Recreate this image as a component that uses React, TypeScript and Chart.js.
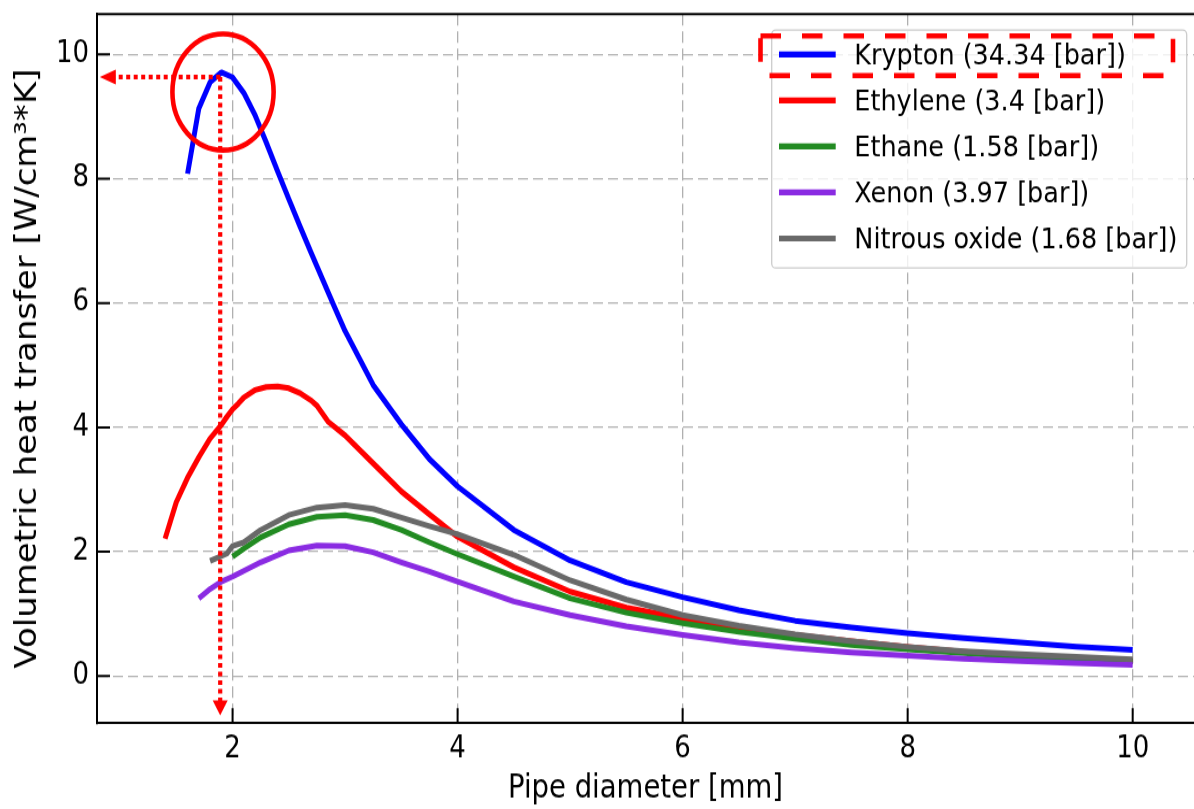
import React, { useEffect, useRef } from 'react';
import { Chart, registerables } from 'chart.js';

Chart.register(...registerables);

// ---- data -----------------------------------------------------------------
const kryptonX = [1.6, 1.7, 1.8, 1.9, 2.0, 2.1, 2.2, 2.3, 2.4, 2.5, 2.6, 2.7, 2.8, 2.9, 3.0, 3.25, 3.5, 3.75, 4.0, 4.5, 5.0, 5.5, 6.0, 6.5, 7.0, 7.5, 8.0, 8.5, 9.0, 9.5, 10.0];
const kryptonY = [8.08, 9.13, 9.55, 9.71, 9.63, 9.38, 9.02, 8.58, 8.12, 7.67, 7.23, 6.8, 6.38, 5.96, 5.55, 4.68, 4.05, 3.49, 3.05, 2.35, 1.86, 1.51, 1.27, 1.06, 0.89, 0.78, 0.69, 0.61, 0.54, 0.47, 0.42];

const ethyleneX = [1.4, 1.5, 1.6, 1.7, 1.8, 1.9, 1.95, 2.0, 2.05, 2.1, 2.2, 2.3, 2.4, 2.5, 2.6, 2.7, 2.75, 2.85, 3.0, 3.25, 3.5, 3.75, 4.0, 4.5, 5.0, 5.5, 6.0, 6.5, 7.0, 7.5, 8.0, 8.5, 9.0, 9.5, 10.0];
const ethyleneY = [2.21, 2.8, 3.19, 3.52, 3.82, 4.04, 4.17, 4.29, 4.38, 4.48, 4.6, 4.65, 4.66, 4.63, 4.55, 4.43, 4.35, 4.09, 3.87, 3.42, 2.97, 2.6, 2.24, 1.75, 1.36, 1.1, 0.93, 0.78, 0.66, 0.56, 0.47, 0.39, 0.33, 0.28, 0.24];

const ethaneX = [2.0, 2.1, 2.25, 2.5, 2.75, 3.0, 3.25, 3.5, 3.75, 4.0, 4.5, 5.0, 5.5, 6.0, 6.5, 7.0, 7.5, 8.0, 8.5, 9.0, 9.5, 10.0];
const ethaneY = [1.92, 2.05, 2.23, 2.44, 2.56, 2.59, 2.51, 2.35, 2.15, 1.96, 1.6, 1.25, 1.02, 0.85, 0.71, 0.6, 0.5, 0.43, 0.37, 0.31, 0.27, 0.235];

const xenonX = [1.7, 1.8, 1.9, 2.0, 2.25, 2.5, 2.75, 3.0, 3.25, 3.5, 3.75, 4.0, 4.5, 5.0, 5.5, 6.0, 6.5, 7.0, 7.5, 8.0, 8.5, 9.0, 9.5, 10.0];
const xenonY = [1.25, 1.4, 1.52, 1.6, 1.83, 2.02, 2.1, 2.09, 1.99, 1.83, 1.68, 1.52, 1.2, 0.98, 0.8, 0.66, 0.54, 0.45, 0.38, 0.33, 0.28, 0.24, 0.21, 0.18];

const nitrousX = [1.8, 1.95, 2.0, 2.1, 2.25, 2.5, 2.75, 3.0, 3.25, 3.5, 3.75, 4.0, 4.5, 5.0, 5.5, 6.0, 6.5, 7.0, 7.5, 8.0, 8.5, 9.0, 9.5, 10.0];
const nitrousY = [1.85, 1.97, 2.09, 2.15, 2.35, 2.59, 2.71, 2.75, 2.69, 2.55, 2.41, 2.28, 1.95, 1.54, 1.23, 0.98, 0.81, 0.67, 0.56, 0.47, 0.4, 0.35, 0.31, 0.27];

const seriesLabels = [
  'Krypton (34.34 [bar])',
  'Ethylene (3.4 [bar])',
  'Ethane (1.58 [bar])',
  'Xenon (3.97 [bar])',
  'Nitrous oxide (1.68 [bar])',
];
const seriesColors = ['#0000ff', '#ff0000', '#228b22', '#8a2be2', '#696969'];
const seriesXs = [kryptonX, ethyleneX, ethaneX, xenonX, nitrousX];
const seriesYs = [kryptonY, ethyleneY, ethaneY, xenonY, nitrousY];

const xTickValues = [2, 4, 6, 8, 10];
const xTickLabels = ['2', '4', '6', '8', '10'];
const yTickValues = [0, 2, 4, 6, 8, 10];
const yTickLabels = ['0', '2', '4', '6', '8', '10'];

const xTitle = 'Pipe diameter [mm]';
const yTitle = 'Volumetric heat transfer [W/cm³*K]';

// annotation anchors (data coordinates)
const peakX = 1.89;
const peakY = 9.635;
const arrowTipX = 0.82;
const arrowTipY = -0.63;
const circleX = 1.915;
const circleY = 9.394;

// ---- layout ---------------------------------------------------------------
const CANVAS_W = 1194;
const CANVAS_H = 704;
const CSS_H = 809;
const FONT = "'DejaVu Sans', sans-serif";

function roundRectPath(ctx: CanvasRenderingContext2D, x: number, y: number, w: number, h: number, r: number) {
  ctx.beginPath();
  ctx.moveTo(x + r, y);
  ctx.lineTo(x + w - r, y);
  ctx.arcTo(x + w, y, x + w, y + r, r);
  ctx.lineTo(x + w, y + h - r);
  ctx.arcTo(x + w, y + h, x + w - r, y + h, r);
  ctx.lineTo(x + r, y + h);
  ctx.arcTo(x, y + h, x, y + h - r, r);
  ctx.lineTo(x, y + r);
  ctx.arcTo(x, y, x + r, y, r);
  ctx.closePath();
}

const decorPlugin = {
  id: 'decor',
  afterDatasetsDraw(chart: any) {
    const { ctx, chartArea: a, scales } = chart;
    const xs = scales.x;
    const ys = scales.y;
    ctx.save();

    // top spine + inward ticks
    ctx.strokeStyle = '#000';
    ctx.lineWidth = 2;
    ctx.setLineDash([]);
    ctx.beginPath();
    ctx.moveTo(a.left - 1, a.top);
    ctx.lineTo(a.right, a.top);
    for (const v of xTickValues) {
      const p = xs.getPixelForValue(v);
      ctx.moveTo(p, a.bottom);
      ctx.lineTo(p, a.bottom - 13);
    }
    for (const v of yTickValues) {
      const p = ys.getPixelForValue(v);
      ctx.moveTo(a.left, p);
      ctx.lineTo(a.left + 13, p);
    }
    ctx.stroke();

    // legend
    const boxRight = a.right - 7.3;
    const boxLeft = boxRight - 415;
    const boxTop = a.top + 13.9;
    const boxH = 207.1;
    roundRectPath(ctx, boxLeft, boxTop, boxRight - boxLeft, boxH, 4);
    ctx.fillStyle = 'rgba(255,255,255,0.8)';
    ctx.fill();
    ctx.strokeStyle = '#cccccc';
    ctx.lineWidth = 1.3;
    ctx.stroke();

    const rowY = (i: number) => boxTop + 21.2 + i * 40.05;
    ctx.font = `25.5px ${FONT}`;
    ctx.textBaseline = 'middle';
    ctx.textAlign = 'left';
    chart.data.datasets.forEach((ds: any, i: number) => {
      const y = rowY(i);
      ctx.strokeStyle = ds.borderColor;
      ctx.lineWidth = 5.2;
      ctx.lineCap = 'butt';
      ctx.beginPath();
      ctx.moveTo(boxLeft + 7.3, y);
      ctx.lineTo(boxLeft + 64, y);
      ctx.stroke();
      ctx.fillStyle = '#000';
      ctx.fillText(ds.label, boxLeft + 82.6, y + 1.8);
    });

    // dashed highlight around first legend entry
    ctx.strokeStyle = '#ff0000';
    ctx.lineWidth = 4.6;
    ctx.setLineDash([20.5, 21]);
    const hl = boxLeft - 11.2;
    const hr = boxLeft + 401.3;
    const ht = rowY(0) - 16.1;
    const hb = rowY(0) + 18.4;
    ctx.beginPath();
    ctx.rect(hl, ht, hr - hl, hb - ht);
    ctx.stroke();

    // dotted arrows from the peak
    const px = xs.getPixelForValue(peakX);
    const py = ys.getPixelForValue(peakY);
    const tipX = xs.getPixelForValue(arrowTipX);
    const tipY = ys.getPixelForValue(arrowTipY);
    ctx.lineWidth = 4.2;
    ctx.setLineDash([4, 3.5]);
    ctx.beginPath();
    ctx.moveTo(px, py);
    ctx.lineTo(tipX + 15, py);
    ctx.stroke();
    ctx.beginPath();
    ctx.moveTo(px, py);
    ctx.lineTo(px, tipY - 12);
    ctx.stroke();
    ctx.setLineDash([]);
    ctx.fillStyle = '#ff0000';
    ctx.beginPath();
    ctx.moveTo(tipX, py);
    ctx.lineTo(tipX + 16, py - 6.4);
    ctx.lineTo(tipX + 16, py + 6.4);
    ctx.closePath();
    ctx.fill();
    ctx.beginPath();
    ctx.moveTo(px, tipY);
    ctx.lineTo(px - 7.5, tipY - 13);
    ctx.lineTo(px + 7.5, tipY - 13);
    ctx.closePath();
    ctx.fill();

    // circle around the peak
    ctx.lineWidth = 4.6;
    ctx.beginPath();
    ctx.arc(xs.getPixelForValue(circleX), ys.getPixelForValue(circleY), 50.6, 0, Math.PI * 2);
    ctx.stroke();

    ctx.restore();
  },
};

export default function App() {
  const canvasRef = useRef<HTMLCanvasElement | null>(null);

  useEffect(() => {
    const canvas = canvasRef.current;
    if (!canvas) return;
    const datasets = seriesLabels.map((label, i) => ({
      label,
      data: seriesXs[i].map((xv, j) => ({ x: xv, y: seriesYs[i][j] })),
      borderColor: seriesColors[i],
      backgroundColor: seriesColors[i],
      borderWidth: 5,
      pointRadius: 0,
      pointHoverRadius: 0,
      tension: 0,
      fill: false,
      order: seriesLabels.length - i,
      borderJoinStyle: 'round' as const,
      borderCapStyle: 'butt' as const,
    }));

    const chart = new Chart(canvas, {
      type: 'line',
      data: { datasets },
      options: {
        responsive: false,
        animation: false,
        devicePixelRatio: 1,
        events: [],
        layout: { padding: { top: 12.2, right: 0, bottom: 0, left: 0 } },
        plugins: {
          legend: { display: false },
          tooltip: { enabled: false },
        },
        scales: {
          x: {
            type: 'linear',
            min: 0.795,
            max: 10.545,
            afterBuildTicks: (s: any) => {
              s.ticks = xTickValues.map((v) => ({ value: v }));
            },
            afterFit: (s: any) => {
              s.height = 74.8;
              s.paddingLeft = 0;
              s.paddingRight = 0;
              s.paddingTop = 0;
              s.paddingBottom = 0;
            },
            ticks: {
              font: { family: FONT, size: 26 },
              color: '#000',
              padding: 7,
              maxRotation: 0,
              autoSkip: false,
              callback: (_v: any, i: number) => xTickLabels[i],
            },
            grid: { color: '#b0b0b0', lineWidth: 1.3, drawTicks: false },
            border: { display: true, color: '#000', width: 2, dash: [10, 5] },
            title: {
              display: true,
              text: xTitle,
              font: { family: FONT, size: 27.5 },
              color: '#000',
              padding: { top: 0, bottom: 1 },
            },
          },
          y: {
            type: 'linear',
            min: -0.756,
            max: 10.648,
            afterBuildTicks: (s: any) => {
              s.ticks = yTickValues.map((v) => ({ value: v }));
            },
            afterFit: (s: any) => {
              s.width = 97;
              s.paddingLeft = 0;
              s.paddingRight = 0;
              s.paddingTop = 0;
              s.paddingBottom = 0;
            },
            ticks: {
              font: { family: FONT, size: 26 },
              color: '#000',
              padding: 8,
              autoSkip: false,
              callback: (_v: any, i: number) => yTickLabels[i],
            },
            grid: { color: '#b0b0b0', lineWidth: 1.3, drawTicks: false },
            border: { display: true, color: '#000', width: 2, dash: [10, 5] },
            title: {
              display: true,
              text: yTitle,
              font: { family: FONT, size: 29.5 },
              color: '#000',
              padding: { top: 10.5, bottom: 0 },
            },
          },
        },
      },
      plugins: [decorPlugin],
    });

    return () => {
      chart.destroy();
    };
  }, []);

  return (
    <div style={{ position: 'absolute', left: 0, top: 0, width: CANVAS_W, height: CSS_H, background: '#fff' }}>
      <canvas
        ref={canvasRef}
        width={CANVAS_W}
        height={CANVAS_H}
        style={{ display: 'block', width: `${CANVAS_W}px`, height: `${CSS_H}px` }}
      />
    </div>
  );
}
